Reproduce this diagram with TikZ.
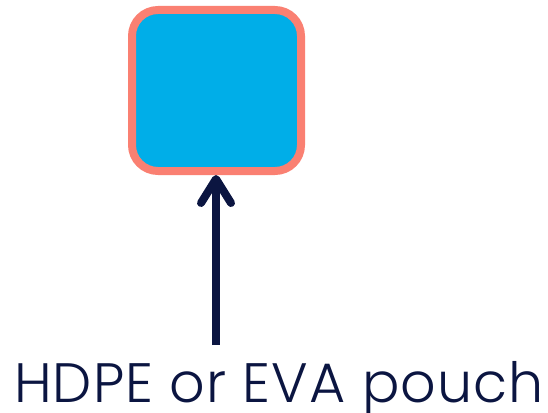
\documentclass[tikz,border=0pt]{standalone}
\usepackage{fontspec}
\setmainfont{Poppins Light}[LetterSpace=2]
\usetikzlibrary{arrows.meta}
\definecolor{boxfill}{HTML}{00AEE8}
\definecolor{boxline}{HTML}{FA8072}
\definecolor{navy}{HTML}{0B1541}
\tikzset{
  pouchbox/.style={draw=boxline, fill=boxfill, line width=8pt, rounded corners=26pt,
    minimum width=169pt, minimum height=161pt, inner sep=0pt},
  pointer/.style={draw=navy, line width=8pt,
    -{Straight Barb[length=24pt,width=30pt,line cap=round,round]}},
  caption/.style={text=navy, font=\fontsize{55.5}{60}\selectfont, inner sep=0pt, anchor=base}
}
\begin{document}
\begin{tikzpicture}[x=1pt,y=-1pt]
\useasboundingbox (0,0) rectangle (548,412);
\node[pouchbox] (box) at (216.5,90.5) {};
\node[caption] (label) at (279,402) {HDPE or EVA pouch};
\coordinate (tail) at (216,345);
\draw[pointer] (tail) -- (tail |- box.south);
\end{tikzpicture}
\end{document}
